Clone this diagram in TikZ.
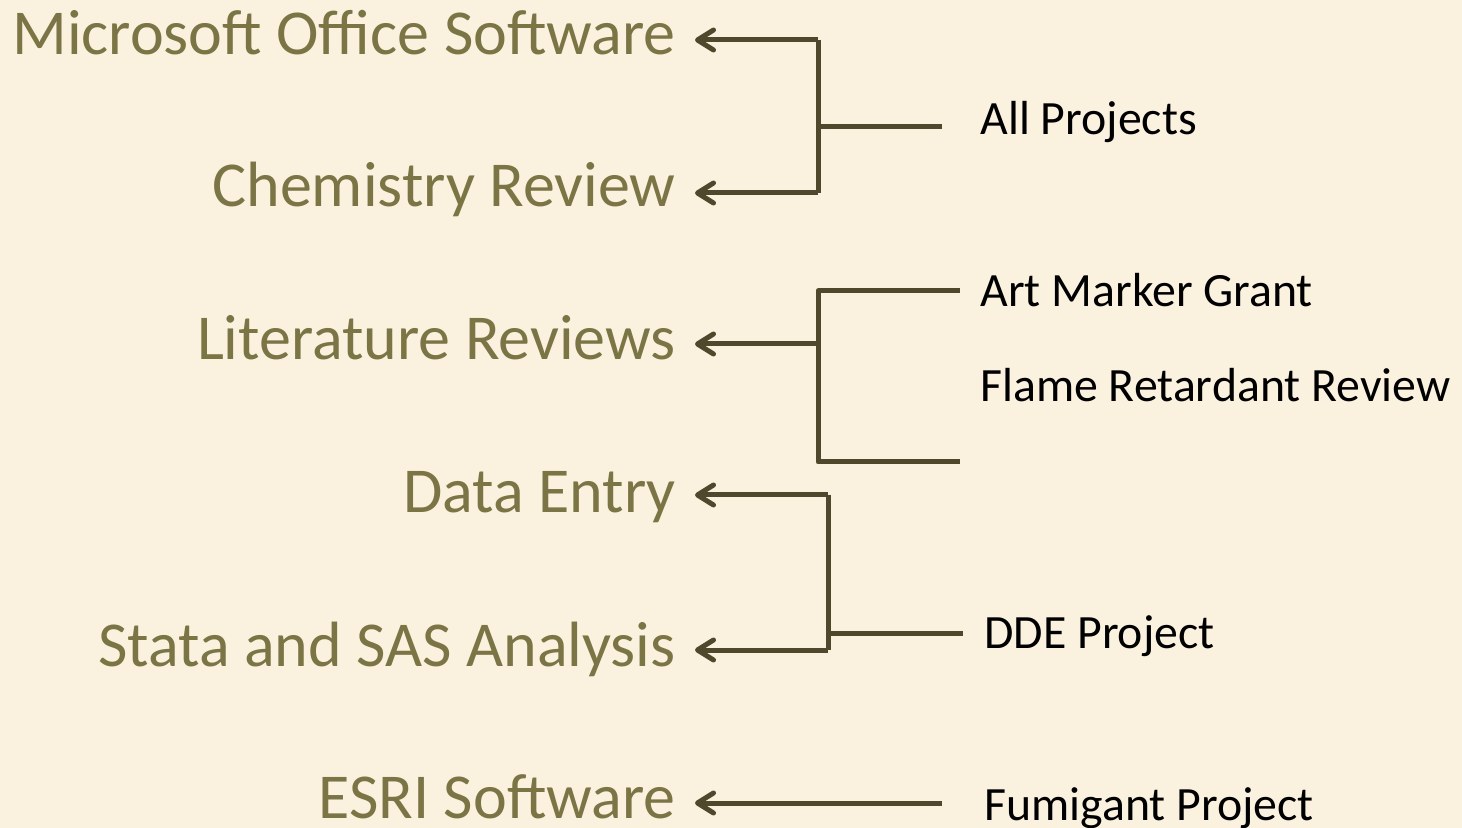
\documentclass[tikz,border=0pt]{standalone}
\usepackage{fontspec}
\setmainfont{Carlito}
\usetikzlibrary{arrows.meta}
\definecolor{bg}{HTML}{FAF1DF}
\definecolor{olive}{HTML}{7B7546}
\definecolor{linec}{HTML}{4F482C}
\tikzset{
  skill/.style={anchor=base east, inner sep=0pt, text=olive, font=\fontsize{32}{38}\selectfont},
  proj/.style={anchor=base west, inner sep=0pt, text=black, font=\fontsize{23.9}{28}\selectfont},
  conn/.style={draw=linec, line width=2.5pt, line join=round},
  arr/.style={conn, -{Straight Barb[length=8pt,width=10pt,line cap=round,line join=round]}}
}
\begin{document}
\begin{tikzpicture}[x=0.5pt,y=-0.5pt]
\fill[bg] (0,0) rectangle (1462,828);
\useasboundingbox (0,0) rectangle (1462,828);
% left skills
\node[skill] (ms)  at (676,55)  {Microsoft Office Software};
\node[skill] (ch)  at (676,207) {Chemistry Review};
\node[skill] (lit) at (676,360) {Literature Reviews};
\node[skill] (de)  at (676,513) {Data Entry};
\node[skill] (st)  at (676,666) {Stata and SAS Analysis};
\node[skill] (es)  at (676,818) {ESRI Software};
% right projects
\node[proj] (all) at (980,135) {All Projects};
\node[proj] (art) at (980,307) {Art Marker Grant};
\node[proj] (fl)  at (980,402) {Flame Retardant Review};
\node[proj] (dde) at (984,648) {DDE Project};
\node[proj] (fum) at (984,820) {Fumigant Project};
% coordinates
\coordinate (t1) at (695,40);
\coordinate (t2) at (695,193);
\coordinate (t3) at (695,344);
\coordinate (t4) at (695,495);
\coordinate (t5) at (695,650);
\coordinate (t6) at (695,803);
\coordinate (j1) at (818,127);
\coordinate (e1) at (942,127);
\coordinate (j2) at (818,344);
\coordinate (a2) at (960,291);
\coordinate (b2) at (960,462);
\coordinate (j3) at (828,633);
\coordinate (e3) at (963,633);
\coordinate (e4) at (942,803);
% group 1
\draw[arr] (j1 |- t2) -- (t2);
\draw[arr] (j1 |- t1) -- (t1);
\draw[conn] (j1 |- t1) -- (j1 |- t2);
\draw[conn] (j1) -- (e1);
% group 2
\draw[conn] (a2) -- (j2 |- a2) -- (j2 |- b2) -- (b2);
\draw[arr] (j2) -- (t3);
% group 3
\draw[arr] (j3 |- t4) -- (t4);
\draw[arr] (j3 |- t5) -- (t5);
\draw[conn] (j3 |- t4) -- (j3 |- t5);
\draw[conn] (j3) -- (e3);
% single
\draw[arr] (e4) -- (t6);
\end{tikzpicture}
\end{document}
